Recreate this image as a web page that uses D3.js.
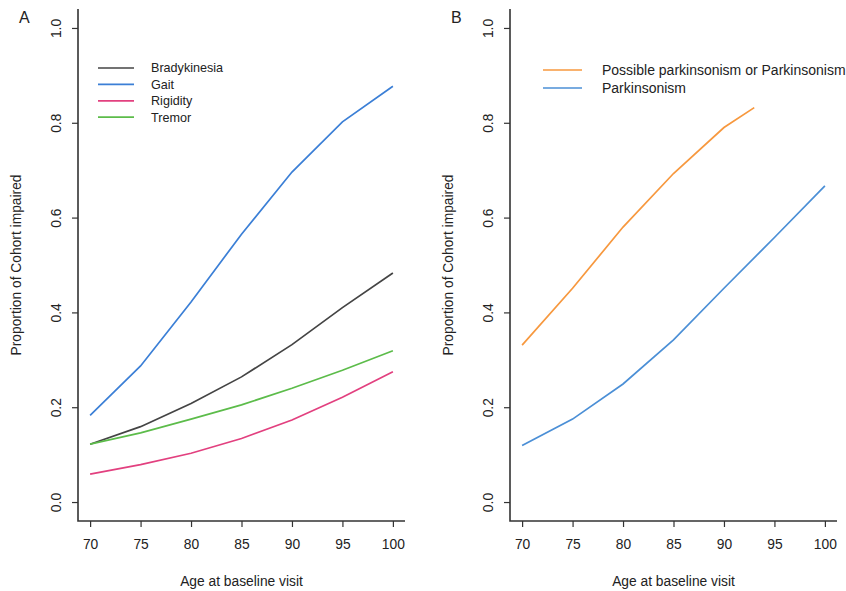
<!DOCTYPE html>
<html>
<head>
<meta charset="utf-8">
<script src="https://cdn.jsdelivr.net/npm/d3@7"></script>
<style>
  body { margin: 0; background: #fff; }
  svg text { font-family: "Liberation Sans", Arial, sans-serif; fill: #222; }
</style>
</head>
<body>
<div id="chart"></div>
<script>
let ages = [70, 75, 80, 85, 90, 95, 100]
let yTicks = [0, 0.2, 0.4, 0.6, 0.8, 1.0]

// panel A
let bradykinesia = [0.122, 0.159, 0.208, 0.264, 0.332, 0.410, 0.483]
let gait = [0.183, 0.287, 0.422, 0.565, 0.696, 0.802, 0.877]
let rigidity = [0.059, 0.079, 0.103, 0.134, 0.173, 0.221, 0.275]
let tremor = [0.122, 0.146, 0.175, 0.205, 0.240, 0.278, 0.319]

// panel B
let possibleAges = [70, 75, 80, 85, 90, 93]
let possible = [0.331, 0.451, 0.580, 0.693, 0.790, 0.832]
let parkinsonism = [0.119, 0.175, 0.249, 0.342, 0.451, 0.558, 0.667]

let panels = [
  {
    letter: 'A', left: 78, right: 405, legendX: 98, legendY: 68, legendStep: 16.4, legendSize: 12.6,
    series: [
      { name: 'Bradykinesia', color: '#444444', x: ages, y: bradykinesia },
      { name: 'Gait', color: '#3b7fd6', x: ages, y: gait },
      { name: 'Rigidity', color: '#e2407f', x: ages, y: rigidity },
      { name: 'Tremor', color: '#5cbc4a', x: ages, y: tremor }
    ]
  },
  {
    letter: 'B', left: 510, right: 837, legendX: 543, legendY: 70, legendStep: 18, legendSize: 14,
    series: [
      { name: 'Possible parkinsonism or Parkinsonism', color: '#f7983e', x: possibleAges, y: possible },
      { name: 'Parkinsonism', color: '#4b8fd6', x: ages, y: parkinsonism }
    ]
  }
]

let plotTop = 9, plotBottom = 521

let svg = d3.select('#chart')
  .append('svg')
  .attr('width', 846)
  .attr('height', 591)

panels.forEach(p => drawPanel(p))

function drawPanel(p) {
  let x = d3.scaleLinear()
    .domain([68.8, 101.2])
    .range([p.left, p.right])

  let y = d3.scaleLinear()
    .domain([-0.04, 1.04])
    .range([plotBottom, plotTop])

  let g = svg.append('g')

  // L-shaped box
  g.append('path')
    .attr('d', `M ${p.left} ${plotTop} V ${plotBottom} H ${p.right}`)
    .attr('fill', 'none')
    .attr('stroke', '#333')
    .attr('stroke-width', 1.6)

  let xAxis = g.append('g')
    .attr('transform', `translate(0,${plotBottom})`)
    .call(d3.axisBottom(x).tickValues(ages).tickSize(6).tickPadding(12).tickFormat(d3.format('d')))
  xAxis.select('.domain').remove()

  let yAxis = g.append('g')
    .attr('transform', `translate(${p.left},0)`)
    .call(d3.axisLeft(y).tickValues(yTicks).tickSize(6).tickFormat(d3.format('.1f')))
  yAxis.select('.domain').remove()

  g.selectAll('.tick line').attr('stroke', '#333').attr('stroke-width', 1.2)
  g.selectAll('.tick text')
    .style('font-size', '13.8px')
    .style('font-family', '"Liberation Sans", Arial, sans-serif')
    .attr('fill', '#222')

  // rotated y tick labels like R's default
  yAxis.selectAll('.tick text')
    .attr('x', null)
    .attr('text-anchor', 'middle')
    .attr('transform', 'translate(-22,0) rotate(-90)')
    .attr('dy', '0.35em')

  g.append('text')
    .attr('x', (p.left + p.right) / 2)
    .attr('y', 586)
    .attr('text-anchor', 'middle')
    .style('font-size', '13.8px')
    .text('Age at baseline visit')

  g.append('text')
    .attr('transform', `translate(${p.left - 57},${(plotTop + plotBottom) / 2}) rotate(-90)`)
    .attr('text-anchor', 'middle')
    .style('font-size', '13.8px')
    .text('Proportion of Cohort impaired')

  g.append('text')
    .attr('x', p.left - 59)
    .attr('y', 23)
    .style('font-size', '16px')
    .text(p.letter)

  let line = d3.line()
    .x(d => x(d[0]))
    .y(d => y(d[1]))

  g.selectAll('path.series')
    .data(p.series)
    .join('path')
    .attr('class', 'series')
    .attr('d', s => line(s.x.map((a, i) => [a, s.y[i]])))
    .attr('fill', 'none')
    .attr('stroke', s => s.color)
    .attr('stroke-width', 1.7)

  let legend = g.selectAll('g.legend')
    .data(p.series)
    .join('g')
    .attr('class', 'legend')
    .attr('transform', (s, i) => `translate(${p.legendX},${p.legendY + i * p.legendStep})`)

  legend.append('line')
    .attr('x1', 0)
    .attr('x2', p.letter == 'A' ? 36 : 39)
    .attr('stroke', s => s.color)
    .attr('stroke-width', 1.7)

  legend.append('text')
    .attr('x', p.letter == 'A' ? 53 : 59)
    .attr('dy', '0.35em')
    .style('font-size', p.legendSize + 'px')
    .text(s => s.name)
}
</script>
</body>
</html>
